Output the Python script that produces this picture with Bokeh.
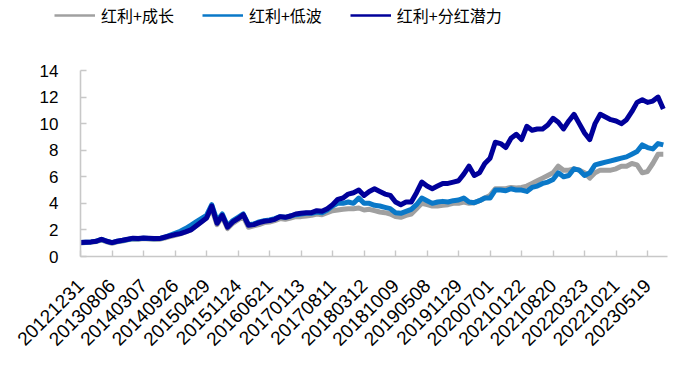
import math
from bokeh.plotting import figure
from bokeh.layouts import column
from bokeh.models import Range1d, FixedTicker, Legend, LegendItem
from bokeh.embed import file_html
from bokeh.resources import INLINE

tick_labels = ["20121231", "20130806", "20140307", "20140926", "20150429", "20151124",
               "20160621", "20170113", "20170811", "20180312", "20181009", "20190508",
               "20191129", "20200701", "20210122", "20210820", "20220323", "20221021",
               "20230519"]
samples_per_tick = 6

growth = [1.02, 1.05, 1.07, 1.12, 1.25, 1.1, 1.0, 1.1, 1.17, 1.25, 1.32, 1.3, 1.35, 1.32, 1.3, 1.3,
          1.38, 1.5, 1.6, 1.7, 1.85, 2.0, 2.3, 2.6, 2.9, 3.6, 2.4, 3.0, 2.1, 2.5, 2.75, 3.0, 2.2, 2.3,
          2.4, 2.55, 2.6, 2.7, 2.85, 2.8, 2.9, 3.0, 3.0, 3.05, 3.1, 3.2, 3.15, 3.3, 3.45, 3.5, 3.55,
          3.6, 3.6, 3.65, 3.5, 3.55, 3.45, 3.35, 3.3, 3.2, 3.0, 2.95, 3.1, 3.2, 3.6, 4.0, 3.9, 3.8,
          3.8, 3.85, 3.9, 4.0, 4.0, 4.1, 4.0, 4.05, 4.2, 4.4, 4.6, 5.1, 5.1, 5.1, 5.2, 5.15, 5.2, 5.3,
          5.5, 5.7, 5.9, 6.1, 6.3, 6.8, 6.5, 6.5, 6.6, 6.5, 6.3, 5.9, 6.3, 6.5, 6.5, 6.5, 6.6, 6.8,
          6.8, 7.0, 6.9, 6.3, 6.4, 7.0, 7.7, 7.7]
lowvol = [1.05, 1.08, 1.1, 1.15, 1.28, 1.15, 1.05, 1.15, 1.2, 1.28, 1.35, 1.33, 1.38, 1.35, 1.33,
          1.35, 1.45, 1.6, 1.75, 1.9, 2.1, 2.35, 2.6, 2.85, 3.1, 3.9, 2.7, 3.2, 2.3, 2.7, 2.95, 3.2,
          2.4, 2.45, 2.6, 2.7, 2.75, 2.85, 3.0, 2.95, 3.05, 3.15, 3.2, 3.25, 3.25, 3.35, 3.3, 3.5,
          3.8, 4.0, 4.0, 4.1, 4.0, 4.4, 4.0, 4.0, 3.85, 3.8, 3.7, 3.6, 3.3, 3.25, 3.4, 3.55, 3.9,
          4.4, 4.2, 4.0, 4.1, 4.15, 4.1, 4.2, 4.25, 4.4, 4.1, 4.05, 4.2, 4.4, 4.4, 5.0, 5.0, 4.95,
          5.1, 5.0, 5.0, 4.9, 5.2, 5.3, 5.5, 5.6, 5.8, 6.3, 6.0, 6.1, 6.6, 6.5, 6.1, 6.3, 6.9, 7.0,
          7.1, 7.2, 7.3, 7.4, 7.5, 7.7, 7.9, 8.4, 8.2, 8.1, 8.5, 8.4]
potential = [1.05, 1.08, 1.1, 1.15, 1.3, 1.15, 1.05, 1.15, 1.22, 1.3, 1.38, 1.35, 1.4, 1.38, 1.35,
             1.35, 1.45, 1.55, 1.65, 1.72, 1.85, 2.0, 2.3, 2.6, 2.9, 3.8, 2.5, 3.1, 2.2, 2.6, 2.85,
             3.15, 2.35, 2.4, 2.55, 2.65, 2.7, 2.8, 3.0, 2.95, 3.05, 3.2, 3.25, 3.3, 3.3, 3.45, 3.4,
             3.6, 3.9, 4.3, 4.4, 4.7, 4.8, 5.0, 4.6, 4.9, 5.1, 4.9, 4.7, 4.6, 4.1, 3.9, 4.1, 4.1,
             4.8, 5.6, 5.3, 5.1, 5.3, 5.5, 5.5, 5.6, 5.7, 6.2, 6.8, 6.1, 6.3, 7.0, 7.4, 8.6, 8.5,
             8.2, 8.9, 9.2, 8.8, 9.8, 9.5, 9.6, 9.6, 9.9, 10.4, 10.1, 9.6, 10.2, 10.7, 10.0, 9.3,
             8.8, 10.0, 10.7, 10.5, 10.3, 10.2, 10.0, 10.3, 10.9, 11.6, 11.8, 11.6, 11.7, 12.0, 11.1]

series_names = ["红利+成长", "红利+低波", "红利+分红潜力"]
series_values = [growth, lowvol, potential]
series_colors = ["#A0A0A0", "#0A78C8", "#00009A"]

# legend strip on top
lf = figure(width=672, height=34, output_backend="svg", toolbar_location=None,
            x_range=Range1d(0, 1), y_range=Range1d(0, 1),
            x_axis_type=None, y_axis_type=None, frame_align=False,
            min_border_left=0, min_border_right=0, min_border_top=0, min_border_bottom=0)
lf.outline_line_color = None
lf.grid.visible = False
items = []
for name, col in zip(series_names, series_colors):
    # placeholder renderer outside the visible range, used only for the legend swatch
    r = lf.line(x=[-5, -4], y=[-5, -5], line_color=col, line_width=2.5)
    items.append(LegendItem(label=name, renderers=[r]))
legend = Legend(items=items, orientation="horizontal", location=(54, 7),
                glyph_width=41, glyph_height=20, label_height=20, label_standoff=6,
                spacing=28, padding=0, margin=0, border_line_color=None,
                background_fill_alpha=0, label_text_font="Noto Sans CJK SC",
                label_text_font_size="16px", label_text_color="#000000")
lf.add_layout(legend, "center")

# main chart
p = figure(width=672, height=334, output_backend="svg", toolbar_location=None,
           x_range=Range1d(0, 111.8), y_range=Range1d(0, 14), frame_align=False,
           min_border_left=80, min_border_right=5, min_border_top=36, min_border_bottom=112)
p.outline_line_color = None
p.grid.visible = False

for vals, col in zip(series_values, series_colors):
    xs = list(range(len(vals)))
    p.line(xs, vals, line_color=col, line_width=5, line_join="round")

for ax in (p.xaxis, p.yaxis):
    ax.axis_line_color = "#C8C8C8"
    ax.axis_line_width = 1.6
    ax.major_tick_line_color = "#C8C8C8"
    ax.major_tick_line_width = 1.4
    ax.major_tick_in = 6
    ax.major_tick_out = 0
    ax.minor_tick_line_color = None
    ax.major_label_text_font = "Liberation Sans"
    ax.major_label_text_color = "#000000"

p.yaxis.ticker = FixedTicker(ticks=list(range(0, 15, 2)))
p.yaxis.major_label_text_font_size = "17px"
p.yaxis.major_label_standoff = 22

xt = [i * samples_per_tick for i in range(len(tick_labels))]
p.xaxis.ticker = FixedTicker(ticks=xt)
p.xaxis.major_label_overrides = {t: lab for t, lab in zip(xt, tick_labels)}
p.xaxis.major_label_orientation = math.pi / 4
p.xaxis.major_label_text_font_size = "19px"
p.xaxis.major_label_standoff = 26

layout = column(lf, p, spacing=0)
open("out.html", "w").write(file_html(layout, INLINE))
